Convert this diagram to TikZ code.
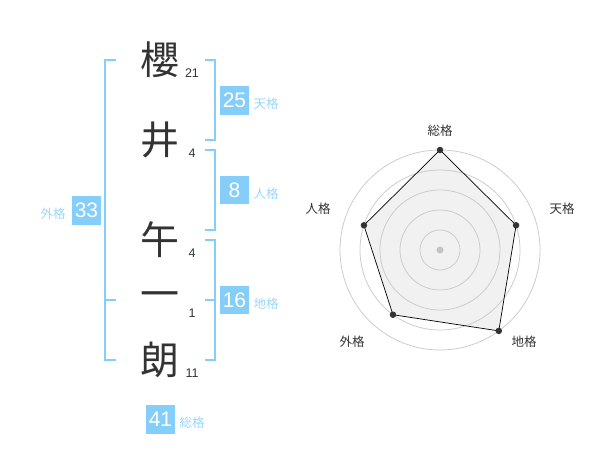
\documentclass[tikz,border=0pt]{standalone}
\usepackage{fontspec}
\setmainfont{Liberation Sans}
\newfontfamily\jpfont{Noto Sans CJK JP}
\usetikzlibrary{calc}

\definecolor{kakublue}{HTML}{86CEFA}
\definecolor{kakutext}{HTML}{9AD6FB}
\definecolor{inkgray}{HTML}{333333}
\definecolor{ringgray}{HTML}{CCCCCC}
\definecolor{areagray}{HTML}{F1F1F1}

\begin{document}
\begin{tikzpicture}[x=1pt, y=-1pt,
    kanji/.style={font=\jpfont\fontsize{39}{39}\selectfont, text=inkgray, inner sep=0pt},
    strokes/.style={font=\fontsize{12.5}{13}\selectfont, text=inkgray, inner sep=0pt},
    kakubox/.style={fill=kakublue, text=white, minimum size=28.5pt, inner sep=0pt, font=\fontsize{21}{21}\selectfont},
    kakuname/.style={font=\jpfont\fontsize{12.5}{13}\selectfont, text=kakutext, inner sep=0pt},
    bracket/.style={draw=kakublue, line width=2pt},
    ring/.style={draw=ringgray, line width=0.8pt},
    axislabel/.style={font=\jpfont\fontsize{12.5}{13}\selectfont, text=inkgray, inner sep=0pt},
    dot/.style={circle, fill=inkgray, inner sep=0pt, minimum size=6.5pt}]

    % Fix the page to the reference size
    \useasboundingbox (0,0) rectangle (600,470);

    % The name, one character per line, with its stroke counts
    \node[kanji] (k1) at (160,60) {櫻};
    \node[kanji] (k2) at (160,140) {井};
    \node[kanji] (k3) at (160,240) {午};
    \node[kanji] (k4) at (160,300) {一};
    \node[kanji] (k5) at (160,360) {朗};
    \node[strokes] (s1) at (192,73) {21};
    \node[strokes] (s2) at (192,153) {4};
    \node[strokes] (s3) at (192,253) {4};
    \node[strokes] (s4) at (192,313) {1};
    \node[strokes] (s5) at (192,373) {11};

    % Brackets joining the characters
    \draw[bracket] (116,60) -- (105,60) -- (105,360) -- (116,360);
    \draw[bracket] (105,300) -- (116,300);
    \draw[bracket] (205,60) -- (215,60) -- (215,140) -- (205,140);
    \draw[bracket] (205,150) -- (215,150) -- (215,230) -- (205,230);
    \draw[bracket] (205,240) -- (215,240) -- (215,360) -- (205,360);
    \draw[bracket] (205,300) -- (215,300);

    % The five sums in boxes, with their names
    \node[kakubox] (gai) at (86.5,210.5) {33};
    \node[kakubox] (ten) at (234.5,100.5) {25};
    \node[kakubox] (jin) at (234.5,190) {8};
    \node[kakubox] (chi) at (234.5,300) {16};
    \node[kakubox] (sou) at (160.5,419.5) {41};
    \node[kakuname] at (53,214) {外格};
    \node[kakuname] at (266,104) {天格};
    \node[kakuname] at (266,194) {人格};
    \node[kakuname] at (266,304) {地格};
    \node[kakuname] at (192,423) {総格};

    % Radar chart
    \coordinate (C) at (440,250);
    \coordinate (R1) at ($ (C) + (90:100pt) $);  % 総格
    \coordinate (R2) at ($ (C) + (18:80pt) $);   % 天格
    \coordinate (R3) at ($ (C) + (-54:100pt) $); % 地格
    \coordinate (R4) at ($ (C) + (-126:80pt) $); % 外格
    \coordinate (R5) at ($ (C) + (162:80pt) $);  % 人格

    \fill[areagray] (R1) -- (R2) -- (R3) -- (R4) -- (R5) -- cycle;
    \draw[ring] (C) circle (20pt) circle (40pt) circle (60pt) circle (80pt) circle (100pt);
    \fill[ringgray!90!gray] (C) circle (3.5pt);
    \draw[black, line width=0.7pt] (R1) -- (R2) -- (R3) -- (R4) -- (R5) -- cycle;
    \node[dot] at (R1) {};
    \node[dot] at (R2) {};
    \node[dot] at (R3) {};
    \node[dot] at (R4) {};
    \node[dot] at (R5) {};

    % Axis names
    \node[axislabel] at (440,131) {総格};
    \node[axislabel] at (562,209) {天格};
    \node[axislabel] at (524,342) {地格};
    \node[axislabel] at (352,342) {外格};
    \node[axislabel] at (318,209) {人格};
\end{tikzpicture}
\end{document}
